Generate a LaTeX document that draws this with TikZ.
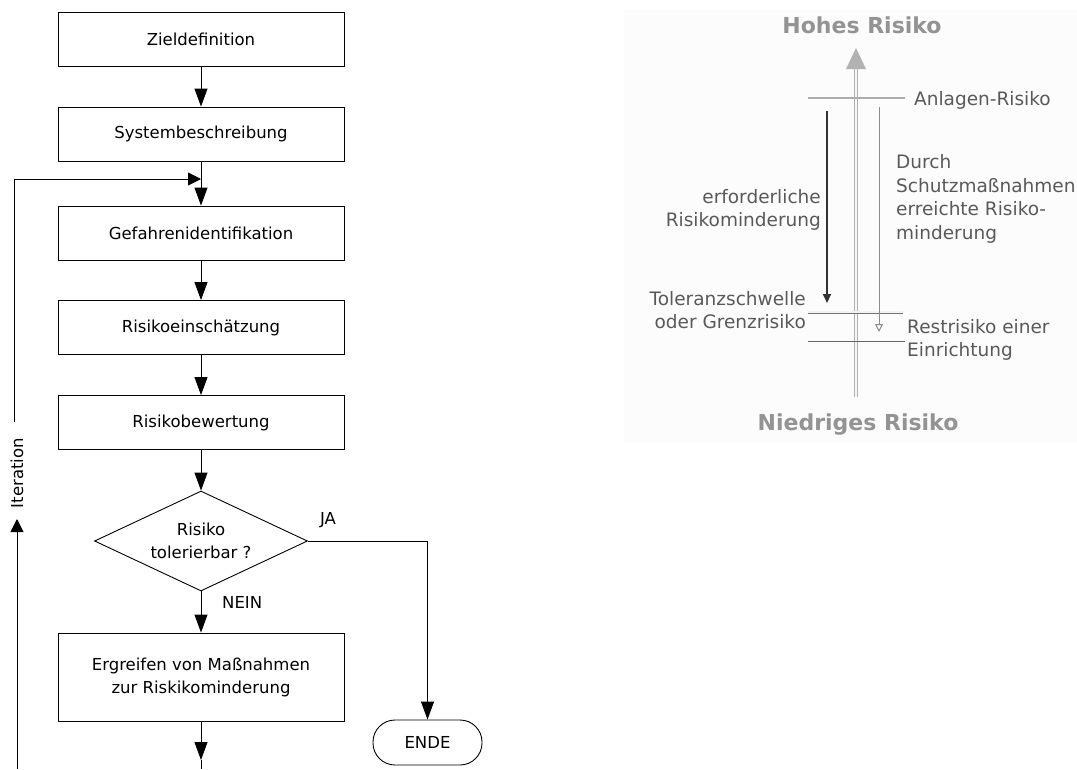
\documentclass[tikz,border=0pt]{standalone}
\usepackage{fontspec}
\setmainfont{DejaVu Sans}
\usetikzlibrary{arrows.meta,shapes.geometric}
\begin{document}
\begin{tikzpicture}[x=1pt,y=-1pt,
  txt/.style={font=\fontsize{16.5}{23}\selectfont, inner sep=0pt, align=center},
  box/.style={txt, draw, line width=0.9pt, minimum width=286pt, minimum height=54pt},
  flow/.style={line width=0.9pt, -{Triangle[length=18pt,width=13pt]}},
  flowsmall/.style={line width=0.9pt, -{Triangle[length=13pt,width=13pt]}},
  rt/.style={font=\fontsize{18.5}{23.5}\selectfont, text=black!65, inner sep=0pt},
  hd/.style={font=\bfseries\fontsize{22}{26}\selectfont, text=gray!85, inner sep=0pt},
  glin/.style={gray!65, line width=1.4pt}]
\useasboundingbox (0,0) rectangle (1077,769);
% right panel background
\fill[gray!2] (624,9) rectangle (1077,443);

% ---------- flowchart ----------
\node[box] (z) at (201,39) {Zieldefinition};
\node[box] (s) at (201,134) {Systembeschreibung};
\node[box] (g) at (201,233) {Gefahrenidentifikation};
\node[box] (re) at (201,327.5) {Risikoeinschätzung};
\node[box] (rb) at (201,422.5) {Risikobewertung};
\node[txt, draw, line width=0.9pt, diamond, aspect=2.13, minimum width=213pt, minimum height=100pt] (d) at (201,541) {Risiko\\tolerierbar ?};
\node[box, minimum height=88pt] (m) at (201,677) {Ergreifen von Maßnahmen\\zur Riskikominderung};
\node[txt, draw, line width=0.9pt, rounded corners=22pt, minimum width=109pt, minimum height=45pt] (e) at (427.5,742.5) {ENDE};

\draw[flow] (z) -- (s);
\draw[flow] (s) -- (g);
\draw[flow] (g) -- (re);
\draw[flow] (re) -- (rb);
\draw[flow] (rb) -- (d);
\draw[flow] (d) -- (m);
\node[txt, anchor=west] (nein) at (222,602) {NEIN};
\draw[flow] (d.east) -| (e.north);
\node[txt] (ja) at (328,520) {JA};

\coordinate (tipm) at (201,760);
\coordinate (botm) at (201,769);
\draw[flow] (m.south) -- (tipm);
\draw[line width=0.9pt] (tipm) -- (botm);

% iteration loop
\coordinate (ib) at (17,769);
\coordinate (it) at (17,519);
\draw[flowsmall] (ib) -- (it);
\node[txt, rotate=90] (iter) at (17,473) {Iteration};
\coordinate (iu) at (14,422);
\coordinate (ic) at (14,179);
\coordinate (fb) at (201,179);
\draw[flowsmall] (iu) -- (ic) -- (fb);

% ---------- risk diagram ----------
\node[hd] (hoch) at (862,25) {Hohes Risiko};
\node[hd] (nied) at (858,425) {Niedriges Risiko};
\coordinate (shtop) at (856,64);
\coordinate (shbot) at (856,397);
\draw[gray!60, line width=0.9pt, double=gray!6, double distance=2.2pt] (shbot) -- (shtop);
\coordinate (atip) at (856,48);
\coordinate (al) at (846,69);
\coordinate (ar) at (866,69);
\fill[gray!60] (atip) -- (al) -- (ar) -- cycle;

\coordinate (an1) at (808,98);
\coordinate (an2) at (905,98);
\draw[glin] (an1) -- (an2);
\coordinate (to1) at (808,312);
\coordinate (to2) at (903,312);
\draw[black!55, line width=0.8pt, double=gray!10, double distance=1.4pt] (to1) -- (to2);
\coordinate (rs1) at (808,341);
\coordinate (rs2) at (905,341);
\draw[black!60, line width=1pt] (rs1) -- (rs2);

\coordinate (da1) at (827,111);
\coordinate (da2) at (827,303);
\draw[black!80, line width=2pt, -{Triangle[length=9pt,width=8pt]}] (da1) -- (da2);
\coordinate (ga1) at (879,107);
\coordinate (ga2) at (879,332);
\draw[gray!90, line width=1pt, -{Triangle[open,length=8pt,width=8pt]}] (ga1) -- (ga2);

\node[rt, anchor=west] (anl) at (914,100) {Anlagen-Risiko};
\node[rt, anchor=east, align=right] (erf) at (821,210) {erforderliche\\Risikominderung};
\node[rt, anchor=west, align=left] (dur) at (896,199) {Durch\\Schutzmaßnahmen\\erreichte Risiko-\\minderung};
\node[rt, anchor=east, align=right] (tol) at (806,310) {Toleranzschwelle\\oder Grenzrisiko};
\node[rt, anchor=west, align=left] (rest) at (907,340) {Restrisiko einer\\Einrichtung};
\end{tikzpicture}
\end{document}
